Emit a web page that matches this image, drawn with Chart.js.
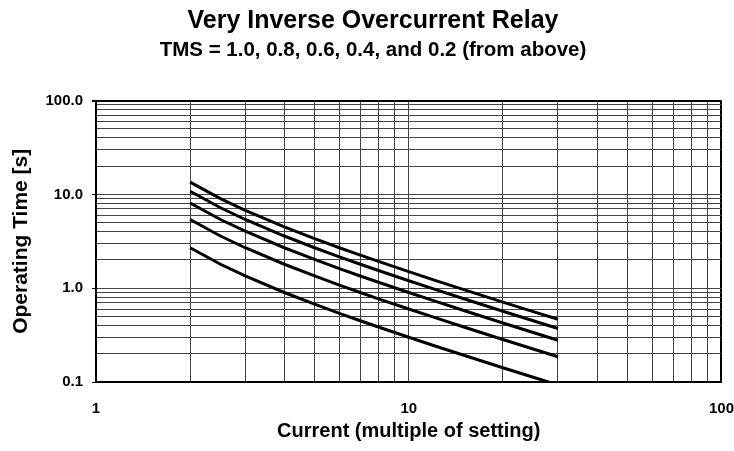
<!DOCTYPE html>
<html>
<head>
<meta charset="utf-8">
<script src="https://cdn.jsdelivr.net/npm/chart.js@4/dist/chart.umd.min.js"></script>
<style>
    html, body { margin: 0; padding: 0; background: #fff; }
    #wrap { width: 734px; height: 451px; }
</style>
</head>
<body>
<div id="wrap"><canvas id="relay_chart" width="734" height="451"></canvas></div>
<script>
// Current as a multiple of the setting, same for every curve.
var currentMultiple = [2, 2.5, 3, 4, 5, 6, 7, 8, 10, 12, 15, 20, 25, 30];

// Operating times in seconds, one list per TMS.
var timeTms10 = [13.5, 9.0, 6.75, 4.5, 3.375, 2.7, 2.25, 1.929, 1.5, 1.227, 0.964, 0.711, 0.5625, 0.466];
var timeTms08 = [10.8, 7.2, 5.4, 3.6, 2.7, 2.16, 1.8, 1.543, 1.2, 0.982, 0.771, 0.568, 0.45, 0.372];
var timeTms06 = [8.1, 5.4, 4.05, 2.7, 2.025, 1.62, 1.35, 1.157, 0.9, 0.736, 0.579, 0.426, 0.3375, 0.279];
var timeTms04 = [5.4, 3.6, 2.7, 1.8, 1.35, 1.08, 0.9, 0.771, 0.6, 0.491, 0.386, 0.284, 0.225, 0.186];
var timeTms02 = [2.7, 1.8, 1.35, 0.9, 0.675, 0.54, 0.45, 0.386, 0.3, 0.245, 0.193, 0.142, 0.1125, 0.093];

var tmsLabels = ["TMS 1.0", "TMS 0.8", "TMS 0.6", "TMS 0.4", "TMS 0.2"];

// Grid positions of the log paper, and the decades that get a label.
var xTicks = [1, 2, 3, 4, 5, 6, 7, 8, 9, 10, 20, 30, 40, 50, 60, 70, 80, 90, 100];
var yTicks = [0.1, 0.2, 0.3, 0.4, 0.5, 0.6, 0.7, 0.8, 0.9, 1, 2, 3, 4, 5, 6, 7, 8, 9,
    10, 20, 30, 40, 50, 60, 70, 80, 90, 100];
var xTickLabels = {1: "1", 10: "10", 100: "100"};
var yTickLabels = {0.1: "0.1", 1: "1.0", 10: "10.0", 100: "100.0"};

var fontFamily = "'Liberation Sans', Arial, Helvetica, sans-serif";
var chart;

createChart();

// Pairs the current values with one list of times.
function toPoints(times) {
    var points = [];
    for (var i = 0; i < currentMultiple.length; i++) {
        points.push({x: currentMultiple[i], y: times[i]});
    }
    return points;
}

function makeDataset(label, times) {
    return {
        label: label,
        data: toPoints(times),
        borderColor: "#000",
        borderWidth: 3,
        pointRadius: 0,
        tension: 0,
        fill: false,
        clip: 0
    };
}

// Replaces the generated ticks with the fixed log paper grid.
function setTicks(values) {
    return function (scale) {
        scale.ticks = values.map(function (v) { return {value: v}; });
    };
}

// Outer grid lines (top and right edge) are drawn heavier, like the frame.
function gridColor(c) {
    return c.tick && c.tick.value === 100 ? "#000" : "#444";
}

function gridWidth(c) {
    return c.tick && c.tick.value === 100 ? 2 : 1;
}

function createChart() {
    var ctx = document.getElementById("relay_chart").getContext("2d");
    chart = new Chart(ctx, {
        type: "line",

        data: {
            datasets: [
                makeDataset(tmsLabels[0], timeTms10),
                makeDataset(tmsLabels[1], timeTms08),
                makeDataset(tmsLabels[2], timeTms06),
                makeDataset(tmsLabels[3], timeTms04),
                makeDataset(tmsLabels[4], timeTms02)
            ]
        },

        options: {
            responsive: false,
            animation: false,
            layout: {padding: {left: 12, right: 0, top: 0, bottom: 0}},
            plugins: {
                legend: {display: false},
                tooltip: {enabled: false},
                title: {
                    display: true,
                    text: "Very Inverse Overcurrent Relay",
                    color: "#000",
                    font: {family: fontFamily, size: 25, weight: "bold"},
                    padding: {top: 6, bottom: 2}
                },
                subtitle: {
                    display: true,
                    text: "TMS = 1.0, 0.8, 0.6, 0.4, and 0.2 (from above)",
                    color: "#000",
                    font: {family: fontFamily, size: 20.5, weight: "bold"},
                    padding: {top: 0, bottom: 38}
                }
            },
            scales: {
                x: {
                    type: "logarithmic",
                    min: 1,
                    max: 100,
                    afterBuildTicks: setTicks(xTicks),
                    afterFit: function (scale) { scale.height = 69; },
                    border: {display: true, color: "#000", width: 2},
                    grid: {
                        drawTicks: true,
                        tickLength: 18,
                        tickColor: "rgba(0,0,0,0)",
                        color: gridColor,
                        lineWidth: gridWidth
                    },
                    ticks: {
                        autoSkip: false,
                        maxRotation: 0,
                        padding: 0,
                        color: "#000",
                        font: {family: fontFamily, size: 15, weight: "bold"},
                        callback: function (value) { return xTickLabels[value] || ""; }
                    },
                    title: {
                        display: true,
                        text: "Current (multiple of setting)",
                        color: "#000",
                        font: {family: fontFamily, size: 20, weight: "bold"},
                        padding: {top: 0, bottom: 8}
                    }
                },
                y: {
                    type: "logarithmic",
                    min: 0.1,
                    max: 100,
                    afterBuildTicks: setTicks(yTicks),
                    afterFit: function (scale) { scale.width = 84; },
                    border: {display: true, color: "#000", width: 2},
                    grid: {
                        tickLength: 4,
                        color: gridColor,
                        lineWidth: gridWidth,
                        tickColor: function (c) { return c.tick && yTickLabels[c.tick.value] ? "#000" : "rgba(0,0,0,0)"; }
                    },
                    ticks: {
                        autoSkip: false,
                        padding: 9,
                        color: "#000",
                        font: {family: fontFamily, size: 15, weight: "bold"},
                        callback: function (value) { return yTickLabels[value] || ""; }
                    },
                    title: {
                        display: true,
                        text: "Operating Time [s]",
                        color: "#000",
                        font: {family: fontFamily, size: 21, weight: "bold"},
                        padding: {top: -3, bottom: 0}
                    }
                }
            }
        }
    });
}
</script>
</body>
</html>
